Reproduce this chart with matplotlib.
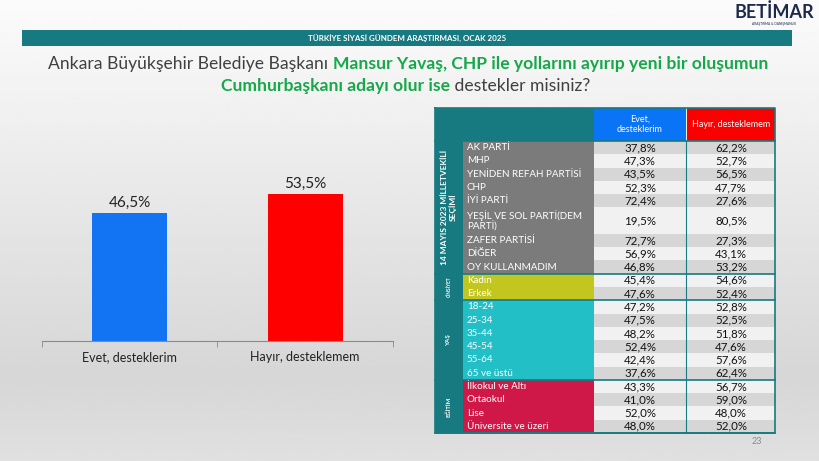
import numpy as np
import matplotlib
matplotlib.use("Agg")
import matplotlib.pyplot as plt
from matplotlib.patches import Rectangle

plt.rcParams['font.family'] = ['Lato', 'DejaVu Sans']

# --- data ---
answers = ['Evet, desteklerim', 'Hayır, desteklemem']
overall = [46.5, 53.5]

party_rows = ['AK PARTİ', 'MHP', 'YENİDEN REFAH PARTİSİ', 'CHP', 'İYİ PARTİ',
              'YEŞİL VE SOL PARTİ(DEM\nPARTİ)', 'ZAFER PARTİSİ', 'DİĞER', 'OY KULLANMADIM']
party_yes = [37.8, 47.3, 43.5, 52.3, 72.4, 19.5, 72.7, 56.9, 46.8]
party_no = [62.2, 52.7, 56.5, 47.7, 27.6, 80.5, 27.3, 43.1, 53.2]

gender_rows = ['Kadın', 'Erkek']
gender_yes = [45.4, 47.6]
gender_no = [54.6, 52.4]

age_rows = ['18-24', '25-34', '35-44', '45-54', '55-64', '65 ve üstü']
age_yes = [47.2, 47.5, 48.2, 52.4, 42.4, 37.6]
age_no = [52.8, 52.5, 51.8, 47.6, 57.6, 62.4]

edu_rows = ['İlkokul ve Altı', 'Ortaokul', 'Lise', 'Üniversite ve üzeri']
edu_yes = [43.3, 41.0, 52.0, 48.0]
edu_no = [56.7, 59.0, 48.0, 52.0]

groups = [
    ('14 MAYIS 2023 MİLLETVEKİLİ\nSEÇİMİ', party_rows, party_yes, party_no, '#7b7b7b', 6.0),
    ('CİNSİYET', gender_rows, gender_yes, gender_no, '#c3c61f', 3.4),
    ('YAŞ', age_rows, age_yes, age_no, '#22bfc6', 4.5),
    ('EĞİTİM', edu_rows, edu_yes, edu_no, '#d01848', 4.2),
]

TEAL = '#177a80'
GREEN = '#17a84a'
TXT = '#404040'


def pct(v):
    return f'{v:.1f}%'.replace('.', ',')


fig = plt.figure(figsize=(8.2, 4.61), dpi=100)

# background gradient
bg = fig.add_axes([0, 0, 1, 1], zorder=-5)
ys = np.linspace(0, 1, 200)
shade = np.interp(ys, [0, 0.82, 1.0], [0.985, 0.84, 0.88])
bg.imshow(np.tile(shade[:, None], (1, 2)), cmap='gray', vmin=0, vmax=1,
          aspect='auto', extent=[0, 1, 1, 0])
bg.set_xlim(0, 1)
bg.set_ylim(1, 0)
bg.axis('off')

# overlay in pixel coordinates
ov = fig.add_axes([0, 0, 1, 1], zorder=1)
ov.set_xlim(0, 820)
ov.set_ylim(461, 0)
ov.axis('off')
ov.patch.set_alpha(0)

# header bar
ov.add_patch(Rectangle((22, 30), 770, 16, color=TEAL, lw=0))
ov.text(407, 38.5, 'TÜRKİYE SİYASİ GÜNDEM ARAŞTIRMASI, OCAK 2025', color='white',
        fontsize=5.8, fontweight='bold', ha='center', va='center')

# logo
ov.text(774, 12, 'BETİMAR', color='#1d2a4a', fontsize=13, fontweight='bold',
        ha='center', va='center')
ov.text(774, 23.5, 'ARAŞTIRMA & DANIŞMANLIK', color='#1d2a4a', fontsize=2.3,
        ha='center', va='center')

# title with mixed colours
r = fig.canvas.get_renderer()


def colored_line(pieces, y, fs, cx):
    texts = []
    for s, c, w in pieces:
        t = ov.text(0, y, s, color=c, fontweight=w, fontsize=fs, ha='left', va='center')
        texts.append(t)
    widths = [t.get_window_extent(r).width for t in texts]
    x0 = cx - sum(widths) / 2
    for t, w in zip(texts, widths):
        t.set_x(x0)
        x0 += w
    return sum(widths)


line1 = [('Ankara Büyükşehir Belediye Başkanı ', TXT, 'normal'),
         ('Mansur Yavaş, CHP ile yollarını ayırıp yeni bir oluşumun', GREEN, 'bold')]
line2 = [('Cumhurbaşkanı adayı olur ise', GREEN, 'bold'),
         (' destekler misiniz?', TXT, 'normal')]
# measure once, then fit line 1 to its width in the reference
probe = fig.text(0, 0, line1[0][0], fontsize=10)
probe2 = fig.text(0, 0, line1[1][0], fontsize=10, fontweight='bold')
w10 = probe.get_window_extent(r).width + probe2.get_window_extent(r).width
probe.remove()
probe2.remove()
fs_title = 10 * 718 / w10
colored_line(line1, 64, fs_title, 408)
colored_line(line2, 86, fs_title, 406)

# bar chart
ax = fig.add_axes([42 / 820, 1 - 341 / 461, 351 / 820, 165 / 461])
ax.patch.set_alpha(0)
x = np.arange(len(answers))
bars = ax.bar(x, overall, width=0.43, color=['#1274f2', '#ff0000'], zorder=2)
for b, v in zip(bars, overall):
    ax.text(b.get_x() + b.get_width() / 2, v + 1.2, pct(v), ha='center', va='bottom',
            fontsize=11, color='#222222')
ax.set_xlim(-0.5, 1.5)
ax.set_ylim(0, 60)
ax.set_yticks([])
for s in ['top', 'right', 'left']:
    ax.spines[s].set_visible(False)
ax.spines['bottom'].set_color('#8a8a8a')
ax.set_xticks(x)
ax.set_xticklabels(answers, fontsize=9, color='#222222')
ax.tick_params(axis='x', length=0, pad=7)
ax.set_xticks([-0.5, 0.5, 1.5], minor=True)
ax.tick_params(axis='x', which='minor', length=4, color='#8a8a8a')

# table
x0, xg, xl, xy, xn, x1 = 435, 463, 594, 686, 687, 775
top_head, top_body, bottom = 108, 141, 433
units = sum(len(g[1]) + (1 if any('\n' in s for s in g[1]) else 0) for g in groups)
uh = (bottom - top_body) / units

ov.add_patch(Rectangle((x0, top_head), xl - x0, top_body - top_head, color=TEAL, lw=0))
ov.add_patch(Rectangle((xl, top_head), xy - xl, top_body - top_head, color='#0a74f7', lw=0))
ov.add_patch(Rectangle((xn, top_head), x1 - xn, top_body - top_head, color='#fb0000', lw=0))
ov.text((xl + xy) / 2, (top_head + top_body) / 2, 'Evet,\ndesteklerim', color='white',
        fontsize=6.5, ha='center', va='center', linespacing=1.2)
ov.text((xn + x1) / 2, (top_head + top_body) / 2, 'Hayır, desteklemem', color='white',
        fontsize=6.5, ha='center', va='center')

y = top_body
k = 0
for name, rows, yes, no, col, gfs in groups:
    gy0 = y
    for lab, a, b in zip(rows, yes, no):
        h = uh * (2 if '\n' in lab else 1)
        ov.add_patch(Rectangle((xg, y), xl - xg, h, color=col, lw=0))
        cell = '#d6d6d6' if k % 2 == 0 else '#f1f1f1'
        ov.add_patch(Rectangle((xl, y), x1 - xl, h, color=cell, lw=0))
        ov.text(xg + 4, y + h / 2, lab, color='white', fontsize=7.1, ha='left',
                va='center', linespacing=1.0)
        ov.text((xl + xy) / 2, y + h / 2, pct(a), color='#111111', fontsize=8.3,
                ha='center', va='center')
        ov.text((xn + x1) / 2, y + h / 2, pct(b), color='#111111', fontsize=8.3,
                ha='center', va='center')
        y += h
        k += 1
    ov.add_patch(Rectangle((x0, gy0), xg - x0, y - gy0, color=TEAL, lw=0))
    ov.text((x0 + xg) / 2, (gy0 + y) / 2, name, color='white', fontsize=gfs,
            fontweight='bold', rotation=90, ha='center', va='center', linespacing=1.1)
    ov.plot([x0, x1], [y, y], color=TEAL, lw=1.2)

ov.plot([x0, x0, x1, x1, x0], [top_head, bottom, bottom, top_head, top_head],
        color=TEAL, lw=1.2)
ov.plot([xy + 0.5, xy + 0.5], [top_body, bottom], color=TEAL, lw=0.8)
ov.plot([x0, x1], [top_body, top_body], color=TEAL, lw=1.2)

ov.text(757, 441, '23', color='#8a8a8a', fontsize=6.5, ha='center', va='center')

fig.savefig('out.png', dpi=100)
